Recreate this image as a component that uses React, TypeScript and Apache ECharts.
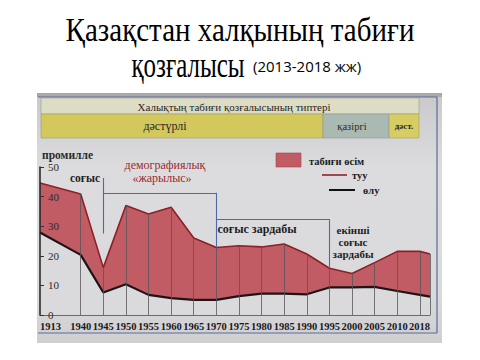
import React, { useEffect, useRef } from "react";
import * as echarts from "echarts";

// Data (промилле)
const years = ["1913", "1940", "1945", "1950", "1955", "1960", "1965", "1970", "1975", "1980", "1985", "1990", "1995", "2000", "2005", "2010", "2015", "2018"];
const birth = [44.6, 40.9, 16.0, 37.0, 34.1, 36.4, 26.0, 22.8, 23.4, 23.0, 24.0, 20.6, 15.8, 14.0, 17.7, 21.5, 21.5, 20.6];
const death = [27.9, 20.3, 7.6, 10.4, 6.8, 5.7, 5.1, 5.1, 6.4, 7.2, 7.2, 7.0, 9.3, 9.3, 9.5, 8.1, 6.8, 6.2];
const hiddenLabels = ["2015"];
const yTicks = [0, 10, 20, 30, 40, 50];

// Axis slots (the printed chart's x spacing is not proportional to years)
const axisSlots = [0, 1.8, 2.8, 3.8, 4.8, 5.8, 6.8, 7.8, 8.8, 9.8, 10.8, 11.8, 12.8, 13.8, 14.8, 15.8, 16.8, 17.25];

const SERIF = "'Liberation Serif', 'DejaVu Serif', serif";
const PLOT_BG = "#dadadd";

export default function App() {
  const ref = useRef<HTMLDivElement>(null);
  useEffect(() => {
    if (!ref.current) return;
    const chart = echarts.init(ref.current, null, { renderer: "svg" });
    const labelSlots = axisSlots.filter((_, i) => !hiddenLabels.includes(years[i]));
    const slotToYear = (v: number) => {
      let best = 0;
      axisSlots.forEach((s, i) => {
        if (Math.abs(s - v) < Math.abs(axisSlots[best] - v)) best = i;
      });
      return years[best];
    };
    const gridLines = axisSlots.slice(1).map((s, k) => [
      { coord: [s, 0] },
      { coord: [s, birth[k + 1]] },
    ]);
    const i1945 = years.indexOf("1945");
    const i1970 = years.indexOf("1970");
    const i1995 = years.indexOf("1995");
    const bracket = [
      [{ coord: [axisSlots[i1945], 46.3] }, { coord: [axisSlots[i1945], 27.5] }],
      [{ coord: [axisSlots[i1945], 41.3] }, { coord: [axisSlots[i1970], 41.3] }],
      [{ coord: [axisSlots[i1970], 41.3] }, { coord: [axisSlots[i1970], birth[i1970]] }],
      [{ coord: [axisSlots[i1970], 32.4] }, { coord: [axisSlots[i1995], 32.4] }],
      [{ coord: [axisSlots[i1995], 32.4] }, { coord: [axisSlots[i1995], birth[i1995]] }],
    ];

    const txt = (text: string, x: number, y: number, size: number, fill: string, extra: any = {}) => ({
      type: "text",
      x,
      y,
      z: 20,
      scaleY: extra.scaleY || 1,
      style: {
        text,
        font: `${extra.weight || "normal"} ${size}px ${extra.family || SERIF}`,
        fill,
        align: extra.align || "center",
        verticalAlign: "middle",
      },
    });

    chart.setOption({
      animation: false,
      backgroundColor: "#ffffff",
      grid: { left: 40, right: 50, top: 167, bottom: 45, containLabel: false },
      xAxis: {
        type: "value",
        min: 0,
        max: axisSlots[axisSlots.length - 1],
        z: 6,
        axisLine: { show: true, lineStyle: { color: "#6a6a70", width: 1 } },
        axisTick: { show: false },
        splitLine: { show: false },
        axisLabel: {
          customValues: labelSlots,
          formatter: (v: number) => slotToYear(v),
          showMinLabel: true,
          showMaxLabel: true,
          hideOverlap: false,
          color: "#1a1a1a",
          fontFamily: SERIF,
          fontSize: 10.5,
          fontWeight: "bold",
          margin: 6,
          alignMinLabel: "left",
          alignMaxLabel: "right",
        },
      },
      yAxis: {
        type: "value",
        min: 0,
        max: 50,
        interval: 10,
        z: 6,
        axisLine: { show: true, lineStyle: { color: "#222", width: 1.5 } },
        axisTick: { show: true, inside: true, length: 4, lineStyle: { color: "#333" } },
        splitLine: { show: false },
        axisLabel: {
          inside: true,
          margin: 8,
          color: "#2a2a2a",
          fontFamily: SERIF,
          fontSize: 11,
          customValues: yTicks,
        },
      },
      series: [
        {
          type: "line",
          name: "туу",
          data: axisSlots.map((s, i) => [s, birth[i]]),
          symbol: "none",
          z: 2,
          lineStyle: { color: "#8e1f26", width: 1.6 },
          areaStyle: { color: "#c25c64", opacity: 1, origin: "start" },
        },
        {
          type: "line",
          name: "өлу",
          data: axisSlots.map((s, i) => [s, death[i]]),
          symbol: "none",
          z: 3,
          lineStyle: { color: "#1c1416", width: 2.2 },
          areaStyle: { color: PLOT_BG, opacity: 1, origin: "start" },
        },
        {
          type: "line",
          name: "grid",
          data: [],
          symbol: "none",
          z: 4,
          markLine: {
            silent: true,
            z: 4,
            symbol: ["none", "none"],
            label: { show: false },
            lineStyle: { color: "#5a5458", width: 0.8, type: "solid" },
            data: gridLines,
          },
        },
        {
          type: "line",
          name: "bracket",
          data: [],
          symbol: "none",
          z: 5,
          markLine: {
            silent: true,
            symbol: ["none", "none"],
            label: { show: false },
            lineStyle: { color: "#4d6aa6", width: 1.1, type: "solid" },
            data: bracket,
          },
        },
      ],
      graphic: [
        // photo background
        {
          type: "rect",
          z: -10,
          shape: { x: 37, y: 93, width: 405, height: 250 },
          style: {
            fill: new echarts.graphic.LinearGradient(0, 0, 0, 1, [
              { offset: 0, color: "#c9c9cc" },
              { offset: 0.3, color: "#dcdcdf" },
              { offset: 0.8, color: "#dadadd" },
              { offset: 1, color: "#cfcfd2" },
            ]),
          },
        },
        { type: "rect", z: -9, shape: { x: 37, y: 93, width: 405, height: 4 }, style: { fill: "#a9a9ac" } },
        // frame
        { type: "line", z: 5, shape: { x1: 38, y1: 97, x2: 437, y2: 97 }, style: { stroke: "#5d6b95", lineWidth: 1.2 } },
        { type: "line", z: 5, shape: { x1: 437, y1: 97, x2: 437, y2: 333 }, style: { stroke: "#5d6b95", lineWidth: 1.2 } },
        { type: "line", z: 5, shape: { x1: 38, y1: 333, x2: 437, y2: 333 }, style: { stroke: "#5d6b95", lineWidth: 1.2 } },
        // table
        { type: "rect", z: 5, shape: { x: 41, y: 98, width: 378, height: 16 }, style: { fill: "#dddcc4", stroke: "#9a9a90", lineWidth: 0.6 } },
        { type: "rect", z: 5, shape: { x: 41, y: 114, width: 282, height: 24 }, style: { fill: "#d2c85c", stroke: "#9a9a70", lineWidth: 0.6 } },
        { type: "rect", z: 5, shape: { x: 323, y: 114, width: 66, height: 24 }, style: { fill: "#aabab2", stroke: "#8a9a90", lineWidth: 0.6 } },
        { type: "rect", z: 5, shape: { x: 389, y: 114, width: 30, height: 24 }, style: { fill: "#d7cd62", stroke: "#9a9a70", lineWidth: 0.6 } },
        txt("Халықтың табиғи қозғалысының типтері", 234, 106.5, 11, "#2a2826"),
        txt("дәстүрлі", 165, 126, 12, "#2a2826"),
        txt("қазіргі", 352, 126, 10.5, "#2a2826"),
        txt("дәст.", 404, 126, 9, "#2a2826", { weight: "bold" }),
        // titles
        txt("Қазақстан халқының табиғи", 240, 30, 29, "#000000", { scaleY: 1.15 }),
        txt("қозғалысы", 188, 65, 25, "#000000", { scaleY: 1.45 }),
        txt("(2013-2018 жж)", 253, 66, 15, "#000000", { align: "left", family: "'Open Sans', sans-serif" }),
        // axis name
        txt("промилле", 42, 155, 11.5, "#2a2a2a", { align: "left", weight: "bold" }),
        // annotations
        txt("соғыс", 85, 178, 11.5, "#1e1e1e", { weight: "bold" }),
        txt("демографиялық", 165, 165, 12, "#9a2a2e"),
        txt("«жарылыс»", 162, 178, 12, "#9a2a2e"),
        txt("соғыс зардабы", 257, 229, 12, "#1e1e1e", { weight: "bold" }),
        txt("екінші", 353, 230, 11, "#1e1e1e", { weight: "bold" }),
        txt("соғыс", 353, 242, 11, "#1e1e1e", { weight: "bold" }),
        txt("зардабы", 353, 253.5, 11, "#1e1e1e", { weight: "bold" }),
        // legend
        { type: "rect", z: 20, shape: { x: 276, y: 153, width: 25, height: 14 }, style: { fill: "#c25c64", stroke: "#a04850", lineWidth: 0.6 } },
        txt("табиғи өсім", 309, 161, 10.5, "#1e1e1e", { align: "left", weight: "bold" }),
        { type: "line", z: 20, shape: { x1: 322, y1: 175, x2: 347, y2: 175 }, style: { stroke: "#9a1f26", lineWidth: 1.6 } },
        txt("туу", 352, 175, 10.5, "#1e1e1e", { align: "left", weight: "bold" }),
        { type: "line", z: 20, shape: { x1: 329, y1: 190, x2: 355, y2: 190 }, style: { stroke: "#111", lineWidth: 2 } },
        txt("өлу", 363, 190, 10.5, "#1e1e1e", { align: "left", weight: "bold" }),
      ],
    });
    return () => chart.dispose();
  }, []);
  return (
    <div
      ref={ref}
      style={{ position: "fixed", left: 0, top: 0, width: 480, height: 360 }}
    />
  );
}
